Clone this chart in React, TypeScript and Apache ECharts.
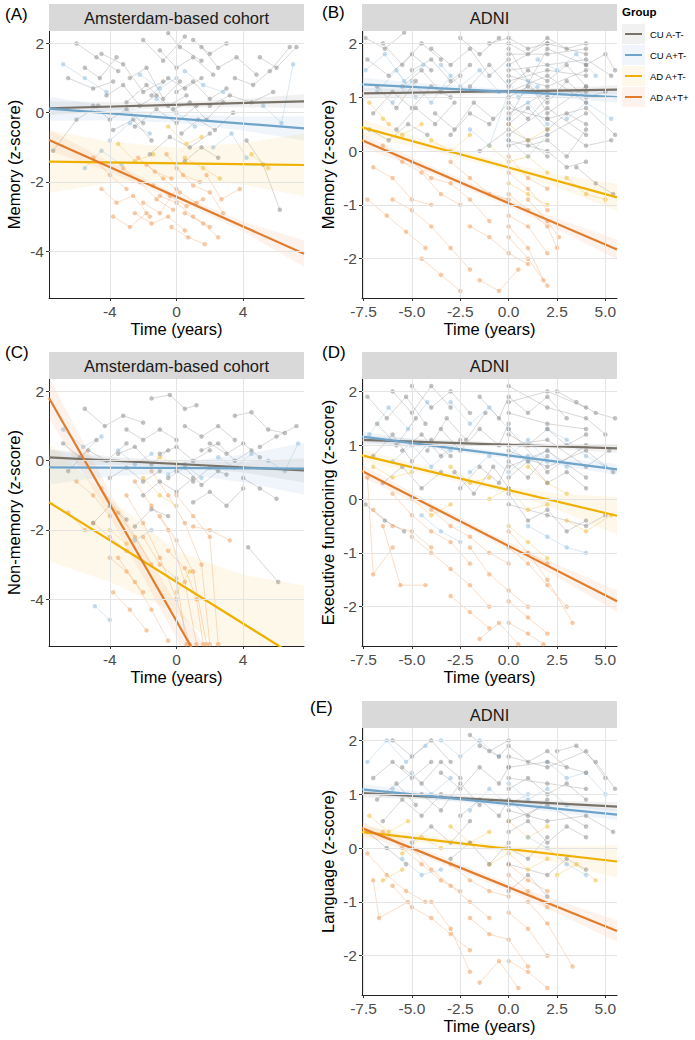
import React, { useEffect, useRef } from "react";
import * as echarts from "echarts";

// ---------------- categories & texts ----------------
const groupNames = ["CU A-T-", "CU A+T-", "AD A+T-", "AD A+T+"];
const panelTags = ["(A)", "(B)", "(C)", "(D)", "(E)"];
const cohortNames = ["Amsterdam-based cohort", "ADNI", "Amsterdam-based cohort", "ADNI", "ADNI"];
const yTitles = ["Memory (z-score)", "Memory (z-score)", "Non-memory (z-score)", "Executive functioning (z-score)", "Language (z-score)"];
const xTitle = "Time (years)";
const legendTitle = "Group";

// ---------------- tick labels ----------------
const amsXTicks = [-4, 0, 4];
const adniXTicks = [-7.5, -5, -2.5, 0, 2.5, 5];
const amsYTicks = [-4, -2, 0, 2];
const adniYTicks = [-2, -1, 0, 1, 2];
const amsXRange = [-7.65, 7.65];
const adniXRange = [-7.58, 5.6];
const amsYRange = [-5.35, 2.36];
const adniYRange = [-2.73, 2.23];

// ---------------- fitted lines (value at left edge, right edge) ----------------
const fitA = [[0.13, 0.33], [0.12, -0.45], [-1.41, -1.51], [-0.79, -4.07]];
const fitB = [[1.07, 1.14], [1.24, 1.0], [0.44, -0.86], [0.2, -1.83]];
const fitC = [[0.095, -0.28], [-0.19, -0.23], [-1.2, -5.8], [1.81, -11.07]];
const fitD = [[1.1, 0.94], [1.16, 0.55], [0.81, -0.31], [0.52, -1.9]];
const fitE = [[1.02, 0.77], [1.09, 0.62], [0.3, -0.25], [0.37, -1.54]];

// ---------------- confidence bands ----------------
const amsBandT = [-7.65, -4, 0, 4, 7.65];
const adniBandT = [-7.58, -4, 0, 2.5, 5.6];
const bandA_lo = [[-0.07, 0.06, 0.15, 0.16, 0.13], [-0.23, -0.22, -0.29, -0.51, -0.8], [-2.31, -2.03, -1.91, -2.08, -2.41], [-1.09, -1.72, -2.53, -3.44, -4.45]];
const bandA_hi = [[0.33, 0.3, 0.31, 0.4, 0.53], [0.47, 0.18, -0.05, -0.11, -0.1], [-0.51, -0.83, -1.01, -0.88, -0.61], [-0.49, -1.42, -2.33, -3.14, -3.69]];
const bandB_lo = [[0.97, 1.03, 1.07, 1.07, 1.06], [1.12, 1.105, 1.05, 0.986, 0.9], [0.29, 0.007, -0.377, -0.674, -1.11], [0.08, -0.421, -1.037, -1.452, -2.01]];
const bandB_hi = [[1.17, 1.15, 1.15, 1.17, 1.22], [1.36, 1.245, 1.15, 1.126, 1.1], [0.59, 0.167, -0.237, -0.434, -0.61], [0.32, -0.281, -0.897, -1.252, -1.65]];
const bandC_lo = [[-0.155, -0.115, -0.17, -0.34, -0.63], [-0.69, -0.45, -0.36, -0.62, -0.98], [-2.9, -3.5, -4.4, -6.0, -8.0], [1.21, -1.61, -5.13, -9.0, -12.57]];
const bandC_hi = [[0.345, 0.125, -0.01, -0.04, 0.07], [0.31, 0.05, -0.06, 0.18, 0.52], [0.5, -1.1, -2.6, -3.3, -3.6], [2.41, -0.91, -4.13, -7.0, -9.57]];
const bandD_lo = [[1.02, 1.007, 0.968, 0.928, 0.86], [1.06, 0.934, 0.759, 0.623, 0.45], [0.69, 0.436, 0.106, -0.197, -0.66], [0.4, -0.207, -0.941, -1.45, -2.1]];
const bandD_hi = [[1.18, 1.107, 1.048, 1.028, 1.02], [1.26, 1.054, 0.859, 0.763, 0.65], [0.93, 0.576, 0.226, 0.103, 0.04], [0.64, -0.067, -0.801, -1.21, -1.7]];
const bandE_lo = [[0.94, 0.902, 0.836, 0.779, 0.69], [0.99, 0.902, 0.769, 0.66, 0.52], [0.18, 0.079, -0.076, -0.27, -0.55], [0.25, -0.219, -0.798, -1.21, -1.74]];
const bandE_hi = [[1.1, 1.002, 0.916, 0.879, 0.85], [1.19, 1.022, 0.869, 0.8, 0.72], [0.42, 0.219, 0.044, 0.03, 0.05], [0.49, -0.079, -0.658, -0.97, -1.34]];

// ---------------- individual trajectories (time, z-score) ----------------
const trajA0 = [
  [[-6.0, 2.0], [-4.8, 1.6], [-3.5, 1.2]], [[-6.5, 1.0], [-5.0, 0.7], [-3.8, 0.9]],
  [[-4.5, 1.7], [-3.2, 1.4], [-2.0, 0.6], [-0.8, 0.9]], [[-3.0, 0.3], [-1.8, 0.8], [-0.5, 0.2], [0.6, 0.5]],
  [[-2.5, -0.4], [-1.2, 0.1], [0.0, -0.3], [1.2, 0.2]], [[-1.0, 1.8], [0.0, 1.3], [1.0, 1.6], [2.2, 1.1]],
  [[-0.5, 2.3], [0.2, 1.9], [1.5, 1.5]], [[0.0, 0.6], [1.0, 0.9], [2.0, 0.4], [3.0, 0.7]],
  [[0.3, -0.6], [1.3, -0.2], [2.3, -0.5], [3.4, 0.0]], [[1.5, 1.9], [2.5, 1.3], [3.6, 1.6], [4.8, 1.1]],
  [[2.0, 0.2], [3.2, 0.5], [4.5, 0.3], [5.8, 0.6]], [[3.5, 1.0], [4.6, 0.8], [5.6, 1.2], [6.8, 1.9]],
  [[-3.8, -0.5], [-2.6, -0.2], [-1.5, -0.8]], [[-1.6, -1.2], [-0.4, -0.7], [0.8, -1.0], [2.0, -0.6]],
  [[4.2, -0.8], [5.2, -1.5], [6.2, -2.8]], [[-7.4, -1.1], [-6.0, -0.2], [-4.7, 0.2]],
  [[-2.0, 2.1], [-0.8, 1.5], [0.5, 2.2]], [[5.0, 1.6], [6.0, 1.3], [7.2, 1.9]],
  [[-5.0, 0.2], [-4.0, -0.2], [-3.0, 0.1], [-2.0, -0.3]], [[-1.5, 0.5], [-0.5, 1.0], [0.5, 0.7], [1.5, 1.0]],
  [[0.5, -1.4], [1.5, -1.0], [2.5, -1.3]], [[-4.2, 0.5], [-3.2, 0.8], [-2.2, 0.2], [-1.2, 0.5]],
  [[-0.2, 0.1], [0.8, 0.3], [1.8, -0.2], [2.8, 0.3]], [[-2.8, 1.0], [-1.8, 1.3], [-0.8, 0.4], [0.2, 0.9]],
  [[1.0, 2.1], [2.0, 1.7], [3.0, 2.0]], [[-5.5, 1.3], [-4.6, 1.0], [-3.6, 1.6]]
];
const trajA1 = [
  [[-6.8, 1.4], [-5.5, 1.0], [-4.2, 0.6]], [[-4.0, -0.8], [-2.8, -0.3], [-1.6, -0.6]],
  [[-1.2, 0.4], [0.0, 0.0], [1.1, -0.4]], [[0.5, 1.2], [1.6, 0.8], [2.8, 0.6]],
  [[2.2, -1.0], [3.3, -0.6], [4.2, -1.3]], [[5.2, 0.2], [6.3, -0.3], [7.0, 1.4]],
  [[-5.5, -1.6], [-4.5, -1.1], [-3.3, -1.5]], [[-2.2, 1.1], [-1.0, 0.7], [0.0, 1.0]]
];
const trajA2 = [
  [[-3.5, -0.9], [-2.5, -1.4], [-1.4, -1.2]], [[0.5, -1.3], [1.6, -1.6], [2.6, -1.9]],
  [[-0.5, -0.4], [0.6, -0.9], [1.5, -0.7]], [[4.5, -1.2], [5.5, -1.6]]
];
const trajA3 = [
  [[-5.0, -1.3], [-4.0, -1.8], [-3.0, -2.2]], [[-4.5, -2.2], [-3.6, -2.6], [-2.6, -2.4], [-1.6, -3.0]],
  [[-3.2, -1.6], [-2.2, -2.0], [-1.2, -2.5], [-0.2, -2.8]], [[-2.5, -2.9], [-1.5, -3.2], [-0.5, -3.0], [0.5, -3.4]],
  [[-1.8, -1.5], [-0.8, -1.9], [0.2, -2.3], [1.2, -2.6]], [[-1.0, -2.4], [0.0, -2.6], [1.0, -3.0], [2.0, -3.3]],
  [[-0.3, -3.3], [0.7, -3.6], [1.7, -3.8]], [[0.0, -1.6], [1.0, -2.1], [2.0, -2.3], [2.8, -2.9]],
  [[0.5, -2.9], [1.6, -3.2], [2.5, -3.6]], [[-2.0, -2.6], [-1.0, -2.9], [0.0, -2.2]],
  [[1.8, -1.8], [2.7, -2.5], [3.8, -2.2]], [[-3.8, -3.0], [-2.8, -3.3], [-1.8, -2.9]],
  [[-0.6, -1.2], [0.4, -1.8], [1.4, -2.0]], [[-1.4, -2.1], [-0.4, -2.4], [0.6, -2.7], [1.6, -2.5]],
  [[-2.3, -1.3], [-1.3, -1.7], [-0.3, -1.9]]
];

const trajB0 = [
  [[-7.3, 1.7], [-6.2, 1.4], [-5.0, 1.8], [-4.0, 1.5]], [[-7.0, 0.7], [-6.0, 1.1], [-5.0, 0.8], [-4.0, 1.2], [-3.0, 1.0]],
  [[-6.5, 2.0], [-5.5, 1.6], [-4.5, 2.0], [-3.5, 1.7]], [[-5.8, 0.4], [-4.8, 0.8], [-3.8, 0.5], [-2.8, 0.9]],
  [[-4.0, 1.9], [-3.0, 1.6], [-2.0, 1.9], [-1.0, 1.4], [0.0, 1.7]], [[-3.0, 0.3], [-2.0, 0.7], [-1.0, 0.5], [0.0, 0.9], [1.0, 0.6], [2.0, 1.0]],
  [[-2.0, 1.2], [-1.0, 1.6], [0.0, 1.2], [1.0, 1.5], [2.0, 1.3], [3.0, 1.6], [4.0, 1.2]], [[0.0, 2.0], [1.0, 1.8], [2.0, 2.1], [3.0, 1.9], [4.0, 2.0]],
  [[0.0, 0.5], [1.0, 0.8], [2.0, 0.4], [3.0, 0.7], [4.0, 0.5]], [[0.0, 1.0], [1.0, 1.2], [2.0, 0.9], [3.0, 1.3], [4.0, 1.0], [5.0, 1.1]],
  [[0.0, 1.5], [2.0, 1.6], [4.0, 1.7], [5.3, 1.4]], [[0.0, 0.2], [2.0, 0.0], [3.0, -0.3], [4.0, -0.2]],
  [[0.0, 0.8], [2.0, 0.6], [4.0, 0.8], [5.5, 0.3]], [[-1.5, 0.0], [0.0, 0.4], [1.0, 0.2], [2.0, -0.1]],
  [[0.0, 1.3], [2.0, 1.5], [4.0, 1.4]], [[0.0, 0.7], [2.0, 1.1], [4.0, 1.1]],
  [[0.0, 1.8], [2.0, 1.8], [4.0, 1.9]], [[0.0, 0.1], [2.0, 0.3], [4.0, 0.7]],
  [[2.0, 0.6], [4.0, 0.1], [5.3, 0.2]], [[3.5, -0.3], [4.5, -0.6], [5.4, -0.8]],
  [[-6.8, 1.2], [-5.8, 0.8], [-4.8, 1.3]], [[-2.5, 2.1], [-1.5, 1.8], [-0.5, 2.1]],
  [[-7.4, 2.1], [-6.4, 1.9], [-5.4, 2.2]], [[-5.5, 1.2], [-4.5, 1.5], [-3.5, 1.1], [-2.5, 1.4]],
  [[-3.8, 0.7], [-2.8, 0.4], [-1.8, 0.9], [-0.8, 0.6]], [[-1.0, 2.0], [0.0, 2.1], [1.0, 1.9], [2.0, 2.0]],
  [[1.0, 0.1], [2.0, 0.2], [3.0, -0.1], [4.0, 0.4]], [[4.0, 1.6], [5.0, 1.8], [5.5, 1.5]],
  [[0.0, 1.4], [2.0, 1.2], [4.0, 1.5]], [[0.0, 0.3], [2.0, 0.8], [4.0, 0.3]],
  [[0.0, 1.1], [2.0, 1.4], [4.0, 0.9]], [[0.0, 1.9], [2.0, 0.7], [4.0, 1.2]],
  [[0.0, 0.6], [2.0, 1.9], [4.0, 1.6]], [[0.0, 1.6], [2.0, 2.0], [4.0, 1.8]],
  [[-7.2, 0.4], [-6.2, 0.2], [-5.2, 0.5], [-4.2, 0.3]], [[-5.0, 1.5], [-4.0, 1.7], [-3.0, 1.3], [-2.0, 1.6]]
];
const trajB1 = [
  [[-7.4, 1.5], [-6.4, 1.8], [-5.4, 1.3], [-4.4, 1.6]], [[-6.0, 0.9], [-5.0, 1.3], [-4.0, 0.9], [-3.0, 1.4]],
  [[-3.5, 1.6], [-2.5, 1.2], [-1.5, 1.5], [-0.5, 1.1]], [[0.0, 1.6], [1.0, 1.3], [2.0, 1.0]],
  [[0.0, 0.6], [1.0, 0.9], [2.0, 0.5]], [[0.0, 0.2], [1.0, -0.1], [2.0, 0.3]],
  [[1.5, 1.7], [2.5, 1.5], [3.5, 1.8], [4.5, 1.4]], [[3.0, 0.6], [4.0, 0.9], [5.3, 0.6]],
  [[-2.0, 0.4], [-1.0, 0.1], [0.0, 1.1]], [[0.0, 1.3], [0.5, 1.0], [1.5, 1.2]],
  [[-6.8, 1.1], [-5.8, 1.5], [-4.8, 1.0]]
];
const trajB2 = [
  [[-6.5, 0.6], [-5.5, 0.3], [-4.5, 0.5]], [[-4.0, 0.2], [-3.0, 0.0], [-2.0, 0.3]],
  [[-1.0, 0.1], [0.0, -0.2], [1.0, -0.1], [2.0, -0.4]], [[0.0, -0.6], [1.0, -0.8], [2.0, -1.0]],
  [[0.0, 0.5], [1.0, 0.2], [2.0, 0.4]], [[3.0, -0.5], [4.0, -0.8], [5.0, -0.9]],
  [[-7.2, 0.9], [-6.2, 0.5]]
];
const trajB3 = [
  [[-7.3, -0.9], [-6.3, -1.2], [-5.3, -1.5], [-4.3, -1.8]], [[-7.0, -0.3], [-6.0, -0.5], [-5.0, -0.9], [-4.0, -1.0]],
  [[-6.5, 0.1], [-5.5, -0.2], [-4.5, -0.4], [-3.5, -0.8], [-2.5, -1.0]], [[-6.0, -0.9], [-5.0, -1.1], [-4.0, -1.4], [-3.0, -1.8], [-2.0, -2.2]],
  [[-5.0, -0.2], [-4.0, -0.5], [-3.0, -0.6], [-2.0, -0.9], [-1.0, -1.3]], [[-4.5, -2.0], [-3.5, -2.3], [-2.5, -2.6]],
  [[-3.0, -0.2], [-2.0, -0.5], [-1.0, -0.8], [0.0, -0.9]], [[-2.0, -1.4], [-1.0, -1.6], [0.0, -1.9], [1.0, -2.1]],
  [[0.0, -0.4], [1.0, -0.7], [2.0, -1.1]], [[0.0, -1.2], [1.0, -1.4], [2.0, -1.9]],
  [[0.0, -1.6], [1.0, -2.0], [2.0, -2.5]], [[0.0, -0.8], [1.0, -1.1], [2.0, -1.4], [2.5, -1.8]],
  [[-1.5, -2.4], [-0.5, -2.6], [0.5, -2.2]], [[1.0, -0.9], [2.0, -1.3], [2.6, -1.6]],
  [[0.0, -0.1], [1.0, -0.5], [2.0, -0.7]], [[0.0, -1.4], [1.0, -1.8], [1.8, -2.4]]
];

const trajC0 = [
  [[-6.5, -0.3], [-5.3, 0.3], [-4.2, 0.0], [-3.0, 0.5]], [[-5.5, 1.5], [-4.3, 1.0], [-3.2, 1.3], [-2.0, 1.1]],
  [[-4.0, -0.5], [-3.0, -0.2], [-2.0, -0.6], [-1.0, -0.3]], [[-3.0, 0.9], [-2.0, 0.6], [-1.0, 0.9], [0.0, 0.6]],
  [[-2.0, -1.0], [-1.0, -0.6], [0.0, -0.9], [1.0, -0.5]], [[-1.5, 1.8], [-0.4, 1.9], [0.5, 1.5], [1.2, 1.6]],
  [[-1.0, 0.2], [0.0, 0.4], [1.0, 0.0], [2.0, 0.3]], [[0.0, -0.3], [1.0, -0.6], [2.0, -0.2], [3.0, -0.4]],
  [[0.5, 1.0], [1.5, 0.7], [2.5, 1.0], [3.5, 0.6]], [[1.0, -1.2], [2.0, -0.9], [3.0, -1.3], [4.0, -0.8]],
  [[2.0, 0.5], [3.0, 0.2], [4.0, 0.5], [5.0, 0.1]], [[3.5, 1.3], [4.5, 1.4], [5.5, 0.9], [6.5, 0.8]],
  [[4.0, -0.5], [5.0, -0.8], [6.0, -1.1]], [[5.0, 0.4], [6.0, 0.7], [7.2, 1.0]],
  [[-5.0, -1.8], [-4.0, -1.3], [-3.0, -1.7]], [[-2.5, -1.9], [-1.5, -1.4], [-0.5, -1.6]],
  [[4.3, -2.5], [6.1, -3.5]], [[-6.8, 0.5], [-5.8, 0.1], [-4.8, 0.6]],
  [[-3.5, 0.2], [-2.5, 0.4], [-1.5, -0.1], [-0.5, 0.3]], [[-0.5, -0.5], [0.5, -0.2], [1.5, -0.7], [2.5, -0.3]],
  [[1.5, 0.3], [2.5, 0.5], [3.5, 0.0], [4.5, 0.3]]
];
const trajC1 = [
  [[-6.8, 0.9], [-5.6, 0.4], [-4.5, 0.7]], [[-3.5, 0.3], [-2.5, -0.1], [-1.5, 0.2]],
  [[-0.5, -0.4], [0.5, -0.1], [1.5, -0.5]], [[2.5, 0.1], [3.5, -0.2], [4.5, 0.2]],
  [[5.5, 0.0], [6.5, -0.3], [7.3, 0.5]], [[-4.9, -4.2], [-4.0, -4.6]],
  [[-2.5, -2.3], [-1.5, -2.0]]
];
const trajC2 = [
  [[-2.0, -0.5], [-1.0, -1.0], [0.0, -1.3]], [[0.0, -3.8], [0.8, -3.2]],
  [[-4.0, -2.0], [-3.0, -2.4]], [[-1.0, 0.1], [0.0, -0.1]]
];
const trajC3 = [
  [[-6.0, -0.6], [-5.0, -1.0], [-4.0, -1.6]], [[-5.0, -1.8], [-4.0, -2.2], [-3.0, -2.6]],
  [[-4.5, -0.8], [-3.5, -1.5], [-2.5, -2.2], [-1.5, -3.0]], [[-3.5, -2.8], [-2.5, -3.5], [-1.5, -4.3], [-0.5, -5.2]],
  [[-3.0, -1.0], [-2.0, -1.8], [-1.0, -2.8], [0.0, -4.0], [0.8, -5.3]], [[-2.5, -0.6], [-1.5, -1.3], [-0.5, -2.0], [0.5, -3.5], [1.2, -5.3]],
  [[-2.0, -2.2], [-1.0, -3.0], [0.0, -3.4], [0.6, -5.3]], [[-1.5, -0.3], [-0.5, -1.0], [0.5, -1.8], [1.5, -3.0], [2.0, -5.3]],
  [[-1.0, -1.6], [0.0, -2.3], [1.0, -3.2], [1.8, -5.3]], [[-0.5, -2.6], [0.5, -3.1], [1.2, -4.0], [1.6, -5.3]],
  [[0.0, -1.0], [1.0, -1.6], [2.0, -2.2], [2.5, -5.3]], [[-4.0, -2.8], [-3.0, -3.2], [-2.0, -3.8]],
  [[-6.5, -1.5], [-5.5, -2.0]], [[1.0, -1.9], [2.0, -2.0], [3.2, -2.3]],
  [[-3.8, -3.8], [-2.8, -4.3], [-1.8, -4.9]]
];

const trajD0 = [
  [[-7.3, 1.9], [-6.3, 1.5], [-5.3, 1.9], [-4.3, 1.4]], [[-7.0, 0.8], [-6.0, 1.2], [-5.0, 0.7], [-4.0, 1.1], [-3.0, 0.8]],
  [[-6.5, 0.3], [-5.5, 0.6], [-4.5, 0.2], [-3.5, 0.5]], [[-5.0, 2.1], [-4.0, 1.7], [-3.0, 2.0], [-2.0, 1.6]],
  [[-3.5, 1.3], [-2.5, 0.9], [-1.5, 1.3], [-0.5, 1.0], [0.0, 1.4]], [[-2.5, 0.2], [-1.5, 0.6], [-0.5, 0.3], [0.0, 0.7], [1.0, 0.4], [2.0, 0.8]],
  [[-1.5, 1.9], [-0.5, 1.5], [0.0, 1.9], [1.0, 1.6], [2.0, 1.9], [3.0, 1.5]], [[0.0, 1.2], [1.0, 1.0], [2.0, 1.3], [3.0, 1.0], [4.0, 1.2]],
  [[0.0, 0.4], [1.0, 0.7], [2.0, 0.3], [3.0, 0.5], [4.0, 0.2]], [[0.0, 2.1], [2.0, 1.7], [4.0, 1.5], [5.0, 1.2]],
  [[0.0, 0.9], [2.0, 0.6], [4.0, 0.9], [5.4, 0.5]], [[0.0, -0.1], [2.0, -0.3], [4.0, -0.5], [5.0, -0.3]],
  [[0.0, 1.6], [2.0, 1.4], [4.0, 1.3]], [[0.0, 0.1], [1.0, -0.4], [2.0, -0.2], [3.0, -0.6], [4.0, -0.4]],
  [[-7.4, -0.1], [-6.4, -0.4], [-5.4, -0.6]], [[2.5, 2.0], [3.5, 1.8], [4.5, 1.6], [5.5, 1.5]],
  [[-4.2, 0.9], [-3.2, 1.5], [-2.2, 1.1], [-1.2, 1.6]], [[-6.8, 1.4], [-5.8, 1.0], [-4.8, 1.5]],
  [[-2.8, 0.5], [-1.8, 0.1], [-0.8, 0.6], [0.0, 0.2]], [[0.0, 1.0], [2.0, 1.1], [4.0, 0.6], [5.2, 0.9]],
  [[0.0, 1.8], [2.0, 2.0], [4.0, 1.7]], [[0.0, 0.6], [2.0, 0.9], [4.0, 0.4]],
  [[0.0, 1.3], [2.0, 0.5], [4.0, 1.0]], [[-6.0, 2.0], [-5.0, 1.6], [-4.0, 2.1], [-3.0, 1.7]],
  [[-5.5, 0.9], [-4.5, 1.2], [-3.5, 0.8], [-2.5, 1.1]]
];
const trajD1 = [
  [[-7.2, 1.2], [-6.2, 1.7], [-5.2, 1.3], [-4.2, 1.8]], [[-6.0, 0.7], [-5.0, 1.0], [-4.0, 0.6], [-3.0, 0.9]],
  [[-3.0, 1.8], [-2.0, 1.4], [-1.0, 1.7], [0.0, 1.3]], [[-2.0, 0.5], [-1.0, 0.8], [0.0, 0.5], [1.0, 0.8]],
  [[0.0, 1.0], [1.0, 0.7], [2.0, 0.9], [3.0, 0.6]], [[1.0, -0.5], [2.0, -0.7], [3.0, -0.9], [4.0, -1.0]],
  [[2.0, 1.3], [3.0, 1.1], [4.0, 0.8], [5.0, 0.6]], [[-4.5, -0.3], [-3.5, -0.6], [-2.5, -0.8]],
  [[0.0, 0.8], [1.0, 1.1], [2.0, 0.7]]
];
const trajD2 = [
  [[-7.0, 0.6], [-6.0, 0.4], [-5.0, 0.5]], [[-5.0, 0.0], [-4.0, -0.3], [-3.0, -0.1]],
  [[-3.0, 0.6], [-2.0, 0.3], [-1.0, 0.4]], [[-1.0, 0.0], [0.0, 0.2], [1.0, -0.2], [2.0, -0.1]],
  [[0.0, -0.5], [1.0, -0.8], [2.0, -1.1]], [[1.0, 0.6], [2.0, 0.3], [3.0, 0.1]],
  [[3.0, -0.4], [4.0, -0.6], [5.3, -0.3]]
];
const trajD3 = [
  [[-7.3, 0.4], [-7.0, -1.4], [-6.0, -0.9]], [[-7.0, -0.2], [-6.0, -0.5], [-5.0, -0.6], [-4.0, -0.9]],
  [[-6.5, -0.5], [-5.6, -1.6], [-4.3, -1.6]], [[-6.0, 0.1], [-5.0, -0.3], [-4.0, -0.6], [-3.0, -0.8], [-2.0, -1.2]],
  [[-5.0, -0.7], [-4.0, -1.0], [-3.0, -1.3], [-2.0, -1.6], [-1.0, -2.0]], [[-4.0, -0.2], [-3.0, -0.5], [-2.0, -0.7], [-1.0, -1.0], [0.0, -1.2]],
  [[-3.0, -1.8], [-2.0, -2.1], [-1.0, -2.4]], [[-2.0, -0.9], [-1.0, -1.4], [0.0, -1.7], [1.0, -2.0]],
  [[0.0, -1.9], [1.0, -2.2], [2.0, -2.5]], [[0.0, -0.9], [1.0, -1.2], [2.0, -1.6], [3.0, -2.0]],
  [[0.0, -2.3], [1.0, -2.5], [1.8, -2.7]], [[1.0, -1.0], [2.0, -1.5], [3.3, -2.3]],
  [[-1.5, -2.6], [-0.5, -2.3], [0.5, -2.7]], [[0.0, -0.6], [1.0, -1.0], [2.0, -1.2]]
];

const trajE0 = [
  [[-7.0, 1.3], [-6.0, 1.6], [-5.0, 1.3], [-4.0, 1.6]], [[-6.5, 0.5], [-5.5, 0.9], [-4.5, 0.6], [-3.5, 1.0]],
  [[-6.0, 2.0], [-5.0, 1.7], [-4.0, 2.0], [-3.0, 1.6]], [[-5.0, 0.1], [-4.0, 0.4], [-3.0, 0.1], [-2.0, 0.5]],
  [[-3.5, 1.4], [-2.5, 1.1], [-1.5, 1.5], [-0.5, 1.2], [0.0, 1.5]], [[-2.5, 0.6], [-1.5, 0.9], [-0.5, 0.6], [0.0, 0.9], [1.0, 0.6], [2.0, 0.9]],
  [[-1.5, 1.9], [-0.5, 1.7], [0.0, 1.9], [1.0, 1.6], [2.0, 1.8], [3.0, 1.5]], [[0.0, 1.1], [1.0, 1.3], [2.0, 1.0], [3.0, 1.2], [4.0, 0.9]],
  [[0.0, 0.3], [1.0, 0.5], [2.0, 0.1], [3.0, 0.4], [4.0, 0.2]], [[0.0, 1.7], [2.0, 1.5], [4.0, 1.8], [5.0, 1.3]],
  [[0.0, 0.7], [2.0, 0.5], [4.0, 0.6], [5.4, 0.3]], [[0.0, -0.3], [2.0, -0.5], [3.0, -0.2], [4.0, -0.4]],
  [[0.0, 1.3], [2.0, 1.2], [4.0, 1.1]], [[0.0, -0.8], [1.0, -0.5], [2.0, -0.9]],
  [[2.5, 1.8], [3.5, 1.9], [4.5, 1.6], [5.5, 1.1]], [[-4.5, 1.0], [-3.5, 0.7], [-2.5, 1.2], [-1.5, 0.8]],
  [[-7.3, 0.3], [-6.3, 0.0], [-5.3, -0.3]], [[-2.0, 2.1], [-1.0, 1.8], [0.0, 2.0]],
  [[0.0, 0.0], [1.0, -0.2], [2.0, 0.2]], [[-3.0, -0.2], [-2.0, 0.1], [-1.0, -0.3], [0.0, 0.1]],
  [[0.0, 1.5], [2.0, 1.6], [4.0, 1.4]], [[0.0, 0.5], [2.0, 0.8], [4.0, 0.4]],
  [[-5.5, 1.5], [-4.5, 1.2], [-3.5, 1.6], [-2.5, 1.3]], [[-6.8, 0.9], [-5.8, 1.2], [-4.8, 0.8]]
];
const trajE1 = [
  [[-7.3, 1.6], [-6.3, 2.0], [-5.3, 1.6], [-4.3, 1.9]], [[-6.0, 1.1], [-5.0, 1.4], [-4.0, 1.0], [-3.0, 1.3]],
  [[-3.5, 2.0], [-2.5, 1.7], [-1.5, 2.0], [-0.5, 1.7]], [[-2.0, 0.7], [-1.0, 1.1], [0.0, 0.8], [1.0, 1.0]],
  [[0.0, 1.2], [1.0, 0.9], [2.0, 1.1], [3.0, 0.8]], [[1.0, 0.2], [2.0, 0.0], [3.0, -0.3], [4.0, -0.5]],
  [[2.0, 1.6], [3.0, 1.3], [4.0, 1.4], [5.0, 1.0]], [[-5.5, -0.2], [-4.5, -0.5], [-3.5, -0.4]]
];
const trajE2 = [
  [[-7.2, 0.6], [-6.2, 0.3], [-5.2, 0.5]], [[-5.5, -0.1], [-4.5, 0.2], [-3.5, 0.0]],
  [[-3.0, 0.4], [-2.0, 0.1], [-1.0, 0.3]], [[-1.0, -0.3], [0.0, -0.1], [1.0, -0.4], [2.0, -0.2]],
  [[0.0, 0.5], [1.0, 0.2], [2.0, 0.4]], [[2.5, -0.5], [3.5, -0.3], [4.5, -0.6]],
  [[-6.5, -0.6], [-5.5, -0.4]]
];
const trajE3 = [
  [[-7.3, -0.1], [-6.3, -0.5], [-5.3, -0.8], [-4.3, -1.0]], [[-7.0, -0.6], [-6.7, -1.3], [-5.2, -1.0]],
  [[-6.5, 0.3], [-5.5, 0.0], [-4.5, -0.3], [-3.5, -0.6], [-2.5, -0.8]], [[-6.0, -0.7], [-5.0, -1.1], [-4.0, -1.3], [-3.0, -1.6], [-2.0, -1.9]],
  [[-5.0, 0.0], [-4.0, -0.4], [-3.0, -0.7], [-2.0, -1.0], [-1.0, -1.3]], [[-4.0, -1.0], [-3.0, -1.5], [-2.0, -2.3]],
  [[-3.0, -0.3], [-2.0, -0.6], [-1.0, -0.8], [0.0, -0.9]], [[-2.0, -1.3], [-1.0, -1.6], [0.0, -1.7], [1.0, -2.2]],
  [[0.0, -0.5], [1.0, -0.8], [2.0, -1.1]], [[0.0, -1.2], [1.0, -1.5], [2.0, -2.0]],
  [[0.0, -2.1], [1.0, -2.3], [2.0, -2.6]], [[1.0, -1.0], [2.0, -1.4], [3.3, -2.2]],
  [[-1.5, -2.5], [-0.5, -2.1], [0.5, -2.6]], [[0.0, -0.3], [1.0, -0.6], [2.0, -0.8]]
];

// ---------------- styling ----------------
const lineColors = ["#797268", "#6ea3ca", "#efb000", "#e27c2c"];
const pointColors = ["#8f8f8f", "#93c0de", "#f1c040", "#f0a060"];
const bandColors = ["rgba(150,150,150,0.13)", "rgba(120,170,210,0.12)", "rgba(245,195,70,0.11)", "rgba(240,150,80,0.11)"];
const FONT = "'Liberation Sans', Arial, Helvetica, sans-serif";

const layout = [
  { left: 49, top: 31, width: 255, height: 267, tagX: 5, tagY: 14, yTitleX: 14 },
  { left: 362, top: 31, width: 255, height: 267, tagX: 322, tagY: 12, yTitleX: 328 },
  { left: 49, top: 379, width: 255, height: 267, tagX: 5, tagY: 352, yTitleX: 14 },
  { left: 362, top: 379, width: 255, height: 267, tagX: 322, tagY: 352, yTitleX: 328 },
  { left: 362, top: 728, width: 255, height: 267, tagX: 310, tagY: 707, yTitleX: 328 },
];
const STRIP_H = 27;

export default function App() {
  const ref = useRef<HTMLDivElement>(null);

  useEffect(() => {
    document.body.style.margin = "0";
    if (!ref.current) return;
    const chart = echarts.init(ref.current, undefined, { renderer: "svg" });

    const panels = [
      { traj: [trajA0, trajA1, trajA2, trajA3], fit: fitA, bt: amsBandT, lo: bandA_lo, hi: bandA_hi, xr: amsXRange, yr: amsYRange, xt: amsXTicks, yt: amsYTicks, dec: 0 },
      { traj: [trajB0, trajB1, trajB2, trajB3], fit: fitB, bt: adniBandT, lo: bandB_lo, hi: bandB_hi, xr: adniXRange, yr: adniYRange, xt: adniXTicks, yt: adniYTicks, dec: 1 },
      { traj: [trajC0, trajC1, trajC2, trajC3], fit: fitC, bt: amsBandT, lo: bandC_lo, hi: bandC_hi, xr: amsXRange, yr: amsYRange, xt: amsXTicks, yt: amsYTicks, dec: 0 },
      { traj: [trajD0, trajD1, trajD2, trajD3], fit: fitD, bt: adniBandT, lo: bandD_lo, hi: bandD_hi, xr: adniXRange, yr: adniYRange, xt: adniXTicks, yt: adniYTicks, dec: 1 },
      { traj: [trajE0, trajE1, trajE2, trajE3], fit: fitE, bt: adniBandT, lo: bandE_lo, hi: bandE_hi, xr: adniXRange, yr: adniYRange, xt: adniXTicks, yt: adniYTicks, dec: 1 },
    ];

    const grids: any[] = [];
    const xAxes: any[] = [];
    const yAxes: any[] = [];
    const series: any[] = [];
    const graphics: any[] = [];

    panels.forEach((p, i) => {
      const L = layout[i];
      grids.push({ left: L.left, top: L.top, width: L.width, height: L.height, containLabel: false });
      xAxes.push({
        type: "value", gridIndex: i, min: p.xr[0], max: p.xr[1],
        splitLine: { show: false },
        axisLine: { show: true, onZero: false, lineStyle: { color: "#222", width: 1 } },
        axisTick: { show: true, length: 3, customValues: p.xt, lineStyle: { color: "#333" } },
        axisLabel: {
          customValues: p.xt, color: "#4d4d4d", fontSize: 15.5, margin: 5, fontFamily: FONT,
          formatter: (v: number) => v.toFixed(p.dec),
        },
      });
      yAxes.push({
        type: "value", gridIndex: i, min: p.yr[0], max: p.yr[1],
        splitLine: { show: false },
        axisLine: { show: true, onZero: false, lineStyle: { color: "#222", width: 1 } },
        axisTick: { show: true, length: 3, customValues: p.yt, lineStyle: { color: "#333" } },
        axisLabel: { customValues: p.yt, color: "#4d4d4d", fontSize: 15.5, margin: 5, fontFamily: FONT,
          formatter: (v: number) => String(v) },
      });

      // grid lines through the axis scales
      series.push({
        type: "line", xAxisIndex: i, yAxisIndex: i, data: [], silent: true, z: 1,
        markLine: {
          silent: true, symbol: ["none", "none"], label: { show: false },
          lineStyle: { color: "#e4e4e4", width: 1, type: "solid" },
          emphasis: { disabled: true },
          data: [...p.xt.map((v) => ({ xAxis: v })), ...p.yt.map((v) => ({ yAxis: v }))],
        },
      });

      // individual trajectories
      [3, 2, 1, 0].forEach((g) => {
        p.traj[g].forEach((tr) => {
          series.push({
            type: "line", xAxisIndex: i, yAxisIndex: i, data: tr, silent: true, z: 2,
            symbol: "circle", symbolSize: 4.5, showSymbol: true, clip: true,
            lineStyle: { color: pointColors[g], width: 0.8, opacity: 0.45 },
            itemStyle: { color: pointColors[g], opacity: 0.55 },
          });
        });
      });

      // confidence bands
      [0, 1, 2, 3].forEach((g) => {
        const lo = p.lo[g];
        const hi = p.hi[g];
        const bt = p.bt;
        series.push({
          type: "custom", xAxisIndex: i, yAxisIndex: i, silent: true, z: 3, clip: true,
          data: bt.map((t, k) => [t, lo[k], hi[k]]),
          encode: { x: 0, y: [1, 2] },
          renderItem: (params: any, api: any) => {
            if (params.dataIndex !== 0) return null;
            const up = bt.map((t, k) => api.coord([t, hi[k]]));
            const dn = bt.map((t, k) => api.coord([t, lo[k]])).reverse();
            return { type: "polygon", shape: { points: up.concat(dn) }, style: { fill: bandColors[g] } };
          },
        });
      });

      // fitted lines
      [0, 1, 2, 3].forEach((g) => {
        series.push({
          type: "line", xAxisIndex: i, yAxisIndex: i, silent: true, z: 4, clip: true,
          data: [[p.xr[0], p.fit[g][0]], [p.xr[1], p.fit[g][1]]],
          symbol: "none", lineStyle: { color: lineColors[g], width: 2.2 },
        });
      });

      // strip
      graphics.push({
        type: "rect", shape: { x: L.left, y: L.top - STRIP_H, width: L.width, height: STRIP_H },
        style: { fill: "#d9d9d9" }, z: 50,
      });
      graphics.push({
        type: "text", x: L.left + L.width / 2, y: L.top - STRIP_H / 2 + 0.5, z: 51,
        style: { text: cohortNames[i], fill: "#1a1a1a", fontSize: 16.5, fontFamily: FONT, align: "center", verticalAlign: "middle" },
      });
      // tag
      graphics.push({
        type: "text", x: L.tagX, y: L.tagY, z: 51,
        style: { text: panelTags[i], fill: "#000", fontSize: 17, fontFamily: FONT, align: "left", verticalAlign: "middle" },
      });
      // y title
      graphics.push({
        type: "text", x: L.yTitleX, y: L.top + L.height / 2, rotation: Math.PI / 2, z: 51,
        style: { text: yTitles[i], fill: "#000", fontSize: 16.5, fontFamily: FONT, align: "center", verticalAlign: "middle" },
      });
      // x title
      graphics.push({
        type: "text", x: L.left + L.width / 2, y: L.top + L.height + 31, z: 51,
        style: { text: xTitle, fill: "#000", fontSize: 16.5, fontFamily: FONT, align: "center", verticalAlign: "middle" },
      });
    });

    // legend
    graphics.push({
      type: "text", x: 622, y: 12, z: 60,
      style: { text: legendTitle, fill: "#000", fontSize: 11.5, fontWeight: "bold", fontFamily: FONT, align: "left", verticalAlign: "middle" },
    });
    groupNames.forEach((name, g) => {
      const cy = 34 + g * 21;
      graphics.push({ type: "rect", shape: { x: 622, y: cy - 10, width: 23, height: 20 }, style: { fill: bandColors[g] }, z: 60 });
      graphics.push({ type: "line", shape: { x1: 625, y1: cy, x2: 642, y2: cy }, style: { stroke: lineColors[g], lineWidth: 2 }, z: 61 });
      graphics.push({
        type: "text", x: 650, y: cy, z: 61,
        style: { text: name, fill: "#000", fontSize: 9.5, fontFamily: FONT, align: "left", verticalAlign: "middle" },
      });
    });

    chart.setOption({
      animation: false,
      backgroundColor: "#ffffff",
      textStyle: { fontFamily: FONT },
      grid: grids,
      xAxis: xAxes,
      yAxis: yAxes,
      series,
      graphic: graphics,
    });

    return () => chart.dispose();
  }, []);

  return <div ref={ref} style={{ width: 695, height: 1040 }} />;
}
